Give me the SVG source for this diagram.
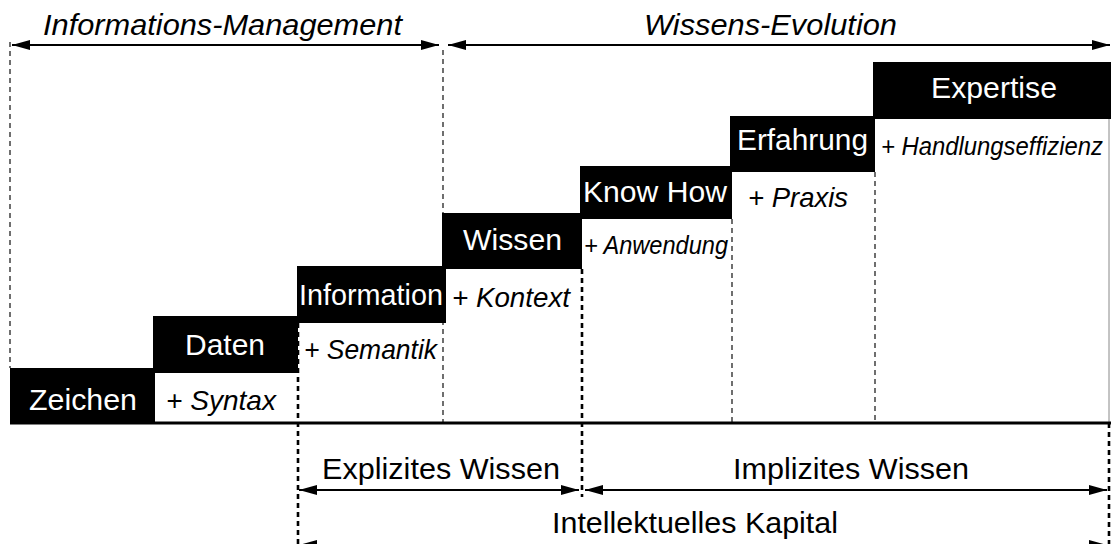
<svg xmlns="http://www.w3.org/2000/svg" width="1111" height="544" viewBox="0 0 1111 544">
<style>
.box{fill:#000}
.lbl{font-family:"Liberation Sans",Arial,sans-serif;font-size:29px;fill:#fff}
.ann{font-family:"Liberation Sans",Arial,sans-serif;font-size:28px;font-style:italic;fill:#000}
.hdr{font-family:"Liberation Sans",Arial,sans-serif;font-size:29px;font-style:italic;fill:#000}
.btm{font-family:"Liberation Sans",Arial,sans-serif;font-size:29px;fill:#000}
.dt{stroke:#222;stroke-width:1.3;stroke-dasharray:5 4;fill:none}
.dk{stroke:#000;stroke-width:2.6;stroke-dasharray:5 4;fill:none}
.arr{stroke:#000;stroke-width:2;fill:none;marker-start:url(#ah);marker-end:url(#ah)}
</style>
<defs>
<marker id="ah" markerUnits="userSpaceOnUse" markerWidth="18" markerHeight="10" refX="18" refY="5" orient="auto-start-reverse" viewBox="0 0 18 10">
<path d="M0,0 L18,5 L0,10 z" fill="#000"/>
</marker>
</defs>
<rect width="1111" height="544" fill="#fff"/>
<g id="connectors">
<line class="dt" x1="10" y1="42" x2="10" y2="368"/>
<line class="dt" x1="443" y1="50" x2="443" y2="423"/>
<line class="dk" x1="298" y1="323" x2="298" y2="544"/>
<line class="dk" x1="582" y1="269" x2="582" y2="497"/>
<line class="dt" x1="732" y1="219" x2="732" y2="423"/>
<line class="dt" x1="875" y1="172" x2="875" y2="423"/>
<line x1="1109" y1="119" x2="1109" y2="423" stroke="#888" stroke-width="1"/>
<line class="dk" x1="1109" y1="423" x2="1109" y2="544" stroke-width="2"/>
<line x1="10" y1="423" x2="1111" y2="423" stroke="#000" stroke-width="3"/>
<line class="arr" x1="12" y1="45" x2="439" y2="45"/>
<line class="arr" x1="448" y1="45" x2="1110" y2="45"/>
<line class="arr" x1="299" y1="490" x2="579" y2="490"/>
<line class="arr" x1="585" y1="490" x2="1107" y2="490"/>
<line class="arr" x1="299" y1="545" x2="1107" y2="545"/>
</g>
<g id="header-im"><text class="hdr" x="43" y="35" textLength="359" lengthAdjust="spacingAndGlyphs">Informations-Management</text></g>
<g id="header-we"><text class="hdr" x="644" y="35" textLength="253" lengthAdjust="spacingAndGlyphs">Wissens-Evolution</text></g>
<g id="zeichen">
<rect class="box" x="10" y="368" width="145" height="55"/>
<text class="lbl" x="29" y="410" textLength="108" lengthAdjust="spacingAndGlyphs">Zeichen</text>
</g>
<g id="daten">
<rect class="box" x="153" y="316" width="145" height="57"/>
<text class="lbl" x="185" y="355" textLength="80" lengthAdjust="spacingAndGlyphs">Daten</text>
<text class="ann" x="166" y="410" textLength="110" lengthAdjust="spacingAndGlyphs">+ Syntax</text>
</g>
<g id="information">
<rect class="box" x="297" y="266" width="149" height="57"/>
<text class="lbl" x="299" y="305" textLength="144" lengthAdjust="spacingAndGlyphs">Information</text>
<text class="ann" x="304" y="359" textLength="133" lengthAdjust="spacingAndGlyphs">+ Semantik</text>
</g>
<g id="wissen">
<rect class="box" x="442" y="213" width="140" height="56"/>
<text class="lbl" x="463" y="250" textLength="99" lengthAdjust="spacingAndGlyphs">Wissen</text>
<text class="ann" x="452" y="307" textLength="118" lengthAdjust="spacingAndGlyphs">+ Kontext</text>
</g>
<g id="knowhow">
<rect class="box" x="580" y="166" width="152" height="53"/>
<text class="lbl" x="583" y="202" textLength="144" lengthAdjust="spacingAndGlyphs">Know How</text>
<text class="ann" x="584" y="254" textLength="144" lengthAdjust="spacingAndGlyphs" style="font-size:26px">+ Anwendung</text>
</g>
<g id="erfahrung">
<rect class="box" x="730" y="116" width="145" height="56"/>
<text class="lbl" x="737" y="150" textLength="131" lengthAdjust="spacingAndGlyphs">Erfahrung</text>
<text class="ann" x="748" y="207" textLength="100" lengthAdjust="spacingAndGlyphs">+ Praxis</text>
</g>
<g id="expertise">
<rect class="box" x="873" y="62" width="238" height="57"/>
<text class="lbl" x="931" y="98" textLength="126" lengthAdjust="spacingAndGlyphs">Expertise</text>
<text class="ann" x="881" y="155" textLength="222" lengthAdjust="spacingAndGlyphs" style="font-size:25px">+ Handlungseffizienz</text>
</g>
<g id="explizit"><text class="btm" x="322" y="479" textLength="238" lengthAdjust="spacingAndGlyphs">Explizites Wissen</text></g>
<g id="implizit"><text class="btm" x="733" y="479" textLength="236" lengthAdjust="spacingAndGlyphs">Implizites Wissen</text></g>
<g id="kapital"><text class="btm" x="552" y="533" textLength="286" lengthAdjust="spacingAndGlyphs">Intellektuelles Kapital</text></g>
</svg>
